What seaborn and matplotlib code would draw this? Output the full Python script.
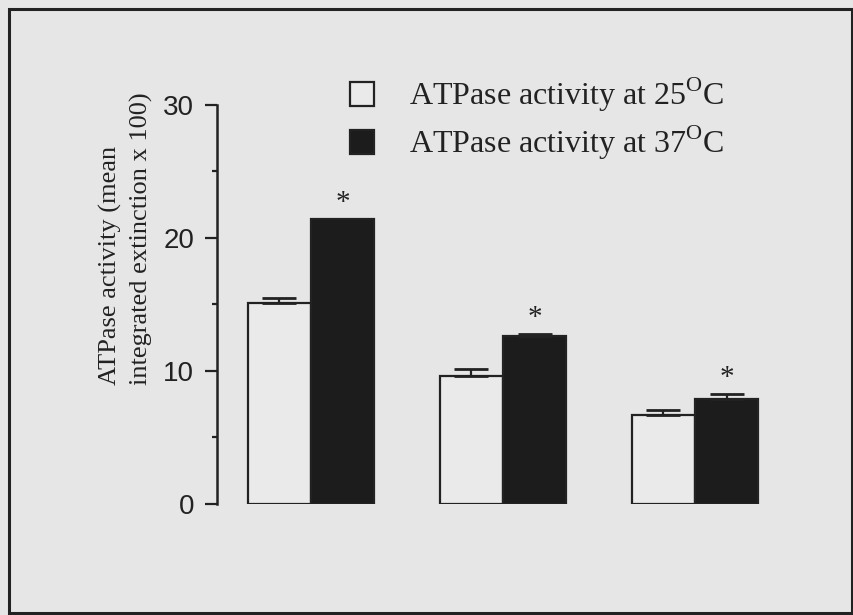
import numpy as np
import pandas as pd
import matplotlib
matplotlib.use("Agg")
import matplotlib.pyplot as plt
import seaborn as sns
from matplotlib.patches import Rectangle
from matplotlib.ticker import MultipleLocator

# Mean ATPase activity (integrated extinction x 100) for three preparations
groups = ["1", "2", "3"]
temperatures = [r"ATPase activity at 25$^{\mathrm{O}}$C",
                r"ATPase activity at 37$^{\mathrm{O}}$C"]
mean_25 = [15.1, 9.6, 6.7]
sem_25 = [0.4, 0.55, 0.35]
mean_37 = [21.4, 12.6, 7.9]
sem_37 = [0.0, 0.2, 0.35]
significant_37 = [True, True, True]
y_ticks = [0, 10, 20, 30]

sns.set_style("ticks")
plt.rcParams["font.family"] = ["Liberation Serif", "DejaVu Serif"]
plt.rcParams["mathtext.fontset"] = "custom"
plt.rcParams["mathtext.rm"] = "Liberation Serif"

bg = "#e6e6e6"
ink = "#222222"

df = pd.DataFrame({
    "group": groups * 2,
    "activity": mean_25 + mean_37,
    "temperature": [temperatures[0]] * 3 + [temperatures[1]] * 3,
})

fig = plt.figure(figsize=(8.54, 6.15), dpi=100, facecolor=bg)
ax = fig.add_axes([0.2541, 0.1805, 0.672, 0.6488])
ax.set_facecolor(bg)

sns.barplot(data=df, x="group", y="activity", hue="temperature",
            hue_order=temperatures, palette=["#eaeaea", "#1c1c1c"],
            width=0.66, errorbar=None, edgecolor=ink, linewidth=1.6, ax=ax)

# One-sided (upper) error bars and significance marks
for container, errs, means, sig in zip(ax.containers, [sem_25, sem_37],
                                       [mean_25, mean_37],
                                       [[False] * 3, significant_37]):
    for bar, err, m, s in zip(container, errs, means, sig):
        x = bar.get_x() + bar.get_width() / 2
        if err > 0:
            ax.errorbar(x, m, yerr=[[0], [err]], fmt="none", ecolor=ink,
                        elinewidth=1.6, capsize=12, capthick=2.0, zorder=3)
        if s:
            ax.text(x, m + err + 1.2, "*", ha="center", va="center",
                    fontsize=21, color=ink)

ax.set_xlim(-0.49, 2.5)
ax.set_ylim(0, 30)
ax.set_xlabel("")
ax.set_ylabel("")
ax.set_xticks([])
ax.set_yticks(y_ticks)
ax.set_yticklabels([str(t) for t in y_ticks], family="Liberation Sans",
                   fontsize=20)
ax.yaxis.set_minor_locator(MultipleLocator(5))
ax.tick_params(axis="y", which="major", length=8.5, width=1.6, color=ink,
               pad=8, labelcolor=ink)
ax.tick_params(axis="y", which="minor", length=3.5, width=1.6, color=ink)
for side in ["top", "right", "bottom"]:
    ax.spines[side].set_visible(False)
ax.spines["left"].set_linewidth(1.8)
ax.spines["left"].set_color(ink)

handles, labels = ax.get_legend_handles_labels()
if ax.get_legend() is not None:
    ax.get_legend().remove()
leg = ax.legend(handles, labels, loc="upper left",
                bbox_to_anchor=(350 / 854, 1 - 76 / 615),
                bbox_transform=fig.transFigure, frameon=False,
                fontsize=23, handlelength=0.75, handleheight=0.75,
                handletextpad=1.1, labelspacing=0.3, borderpad=0,
                borderaxespad=0)
for t in leg.get_texts():
    t.set_color(ink)

fig.text(126 / 854, 1 - 385 / 615,
         "ATPase activity (mean\nintegrated extinction x 100)",
         rotation=90, ha="center", va="bottom", multialignment="left",
         fontsize=19, color=ink, linespacing=1.45)

# Frame around the figure
fig.patches.append(Rectangle((9 / 854, 2 / 615), 843 / 854, 604 / 615,
                             transform=fig.transFigure, fill=False,
                             edgecolor=ink, linewidth=2.2))

fig.savefig("out.png", dpi=100, facecolor=bg)
